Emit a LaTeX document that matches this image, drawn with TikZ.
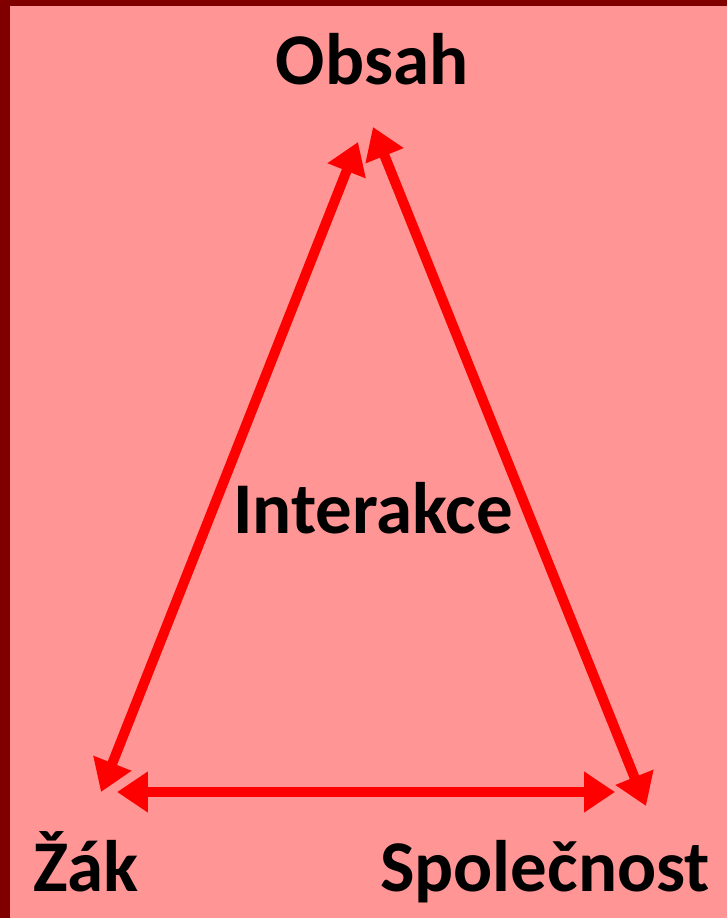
\documentclass[tikz,border=0pt]{standalone}
\usepackage{fontspec}
\setmainfont{Carlito}
\usetikzlibrary{arrows.meta, positioning}
\definecolor{slidebg}{RGB}{255, 149, 149}
\definecolor{slideframe}{RGB}{128, 0, 0}
\definecolor{arrowred}{RGB}{255, 0, 0}

\begin{document}
\begin{tikzpicture}[
    x=0.02cm, y=-0.02cm, % one unit = one pixel of the slide
    every node/.style={font=\bfseries\fontsize{41.5}{46}\selectfont, text=black},
    label/.style={inner sep=0pt, anchor=base},
    link/.style={{Triangle[length=0.62cm, width=0.78cm]}-{Triangle[length=0.62cm, width=0.78cm]},
                 line width=0.2cm, color=arrowred}
]

% Background
\fill[slideframe] (0,0) rectangle (727,918);
\fill[slidebg] (10,6) rectangle (727,918);
\useasboundingbox (0,0) rectangle (727,918);

% Nodes
\node[label] (obsah)      at (372,85)  {Obsah};
\node[label] (interakce)  at (373,533) {Interakce};
\node[label] (zak)        at (86,891)  {Žák};
\node[label] (spolecnost) at (545,891) {Společnost};

% Arrow ends
\coordinate (obsahL) at (358,142);
\coordinate (obsahR) at (373,127);
\coordinate (zakU)   at (101,792);
\coordinate (zakR)   at (117,792);
\coordinate (spolL)  at (615,792);
\coordinate (spolU)  at (646,806);

% Edges
\draw[link] (zakU) -- (obsahL);
\draw[link] (obsahR) -- (spolU);
\draw[link] (zakR) -- (spolL);

\end{tikzpicture}
\end{document}
